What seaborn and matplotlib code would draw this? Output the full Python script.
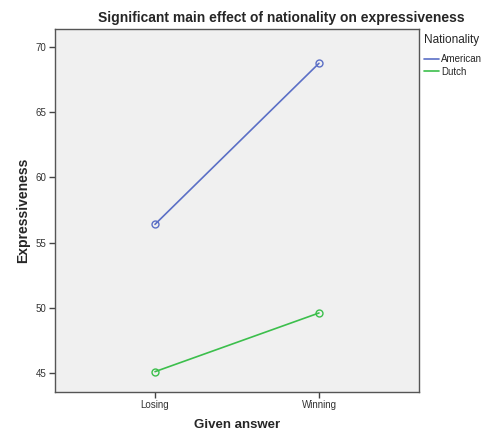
import matplotlib
matplotlib.use("Agg")
import matplotlib.pyplot as plt
import seaborn as sns
import pandas as pd
from matplotlib.lines import Line2D

answers = ["Losing", "Winning"]
american = [56.4, 68.75]
dutch = [45.1, 49.6]
nationalities = ["American", "Dutch"]
colors = ["#5b6fc6", "#3cbf4c"]

df = pd.DataFrame({
    "Given answer": answers * 2,
    "Expressiveness": american + dutch,
    "Nationality": [nationalities[0]] * 2 + [nationalities[1]] * 2,
})

sns.set_theme(style="ticks")
plt.rcParams["font.family"] = ["Liberation Sans", "DejaVu Sans"]

fig = plt.figure(figsize=(4.83, 4.32), dpi=100)
ax = fig.add_axes([55 / 483, 1 - 392 / 432, 364 / 483, 363 / 432])
ax.set_facecolor("#f0f0f0")

sns.lineplot(data=df, x="Given answer", y="Expressiveness", hue="Nationality",
             palette=colors, marker="o", markersize=5, markerfacecolor="none",
             markeredgewidth=1.0, linewidth=1.2, sort=False, legend=False, ax=ax)
for line, c in zip(ax.get_lines(), colors):
    line.set_markeredgecolor(c)

ax.set_xlim(-0.61, 1.61)
ax.set_ylim(43.54, 71.38)
ax.set_yticks([45, 50, 55, 60, 65, 70])
ax.tick_params(axis="both", labelsize=7, length=4, width=1, color="#444444",
               labelcolor="#333333", pad=2)
for s in ax.spines.values():
    s.set_color("#555555")
    s.set_linewidth(1)
    s.set_visible(True)

ax.set_xlabel("Given answer", fontsize=9.5, fontweight="bold", labelpad=6)
ax.set_ylabel("Expressiveness", fontsize=10, fontweight="bold", labelpad=4)

fig.text(281 / 483, 1 - 18 / 432, "Significant main effect of nationality on expressiveness",
         ha="center", va="center", fontsize=10, fontweight="bold")

handles = [Line2D([0], [0], color=c, lw=1.2) for c in colors]
leg = fig.legend(handles, nationalities, title="Nationality", loc="upper left",
                 bbox_to_anchor=(421 / 483, 1 - 31 / 432), frameon=False,
                 fontsize=7, title_fontsize=8.5, handlelength=1.6, handletextpad=0.2,
                 labelspacing=0.25, borderaxespad=0, borderpad=0.3)
leg._legend_box.align = "left"
leg._legend_box.sep = 6

fig.savefig("out.png", dpi=100)
